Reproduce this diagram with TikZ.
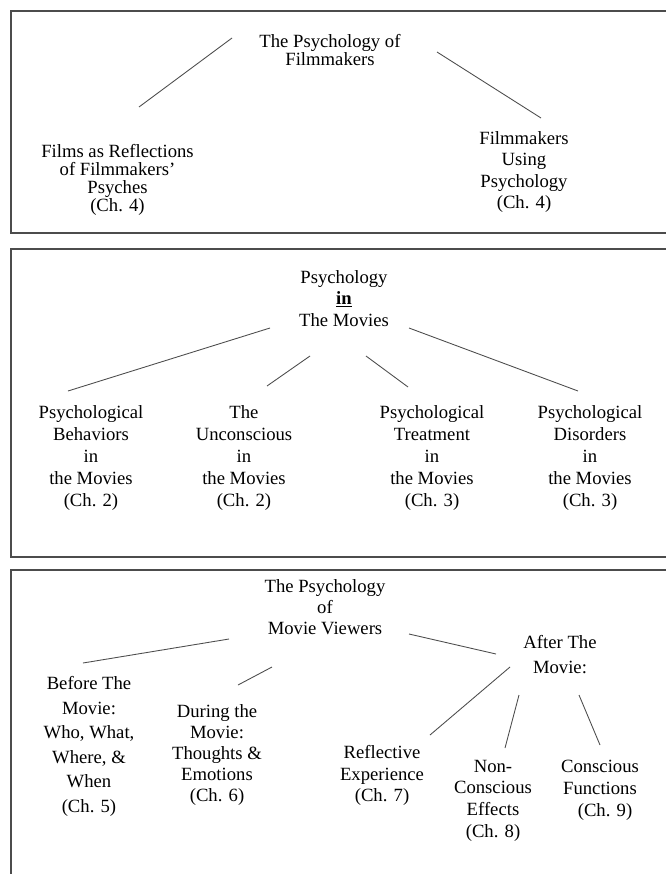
\documentclass[tikz,border=0pt]{standalone}
\usepackage{fontspec}
\setmainfont{Liberation Serif}
\usetikzlibrary{positioning}

\begin{document}
\begin{tikzpicture}[
    x=0.75pt, y=-0.75pt,
    frame/.style={line width=1pt, black!70},
    link/.style={line width=0.65pt, black!70},
    entry/.style={align=center, inner sep=0pt,
        font=\fontsize{14pt}{#1}\selectfont}
]

\useasboundingbox (0,0) rectangle (666,874);
\clip (0,0) rectangle (666,874);
\fill[white] (0,0) rectangle (666,874);

% Filmmakers

\draw[frame] (11,11) rectangle (700,233);

\node[entry=12pt] (film) at (330,50) {The Psychology of\\Filmmakers};
\node[entry=13.5pt] (reflect) at (117.5,180)
    {Films as Reflections\\of Filmmakers'\\Psyches\\(Ch. 4)};
\node[entry=16pt] (using) at (524,172)
    {Filmmakers\\Using\\Psychology\\(Ch. 4)};

\coordinate (film-l) at (232,38);
\coordinate (reflect-t) at (139,107);
\coordinate (film-r) at (437,52);
\coordinate (using-t) at (541,118);

\draw[link] (film-l) -- (reflect-t);
\draw[link] (film-r) -- (using-t);


% Movies

\draw[frame] (11,249) rectangle (700,557);

\node[entry=16pt] (movies) at (344,298.5)
    {Psychology\\\underline{\textbf{in}}\\The Movies};
\node[entry=16.5pt] (behav) at (91,458)
    {Psychological\\Behaviors\\in\\the Movies\\(Ch. 2)};
\node[entry=16.5pt] (uncon) at (244,458)
    {The\\Unconscious\\in\\the Movies\\(Ch. 2)};
\node[entry=16.5pt] (treat) at (432,458)
    {Psychological\\Treatment\\in\\the Movies\\(Ch. 3)};
\node[entry=16.5pt] (disord) at (590,458)
    {Psychological\\Disorders\\in\\the Movies\\(Ch. 3)};

\coordinate (movies-a) at (270,328);
\coordinate (movies-b) at (310,356);
\coordinate (movies-c) at (366,356);
\coordinate (movies-d) at (409,328);
\coordinate (behav-t) at (68,391);
\coordinate (uncon-t) at (267,386);
\coordinate (treat-t) at (408,387);
\coordinate (disord-t) at (578,391);

\draw[link] (movies-a) -- (behav-t);
\draw[link] (movies-b) -- (uncon-t);
\draw[link] (movies-c) -- (treat-t);
\draw[link] (movies-d) -- (disord-t);


% Viewers

\draw[frame] (11,570) rectangle (700,900);

\node[entry=15.75pt] (viewers) at (325,607)
    {The Psychology\\of\\Movie Viewers};
\node[entry=18.4pt] (before) at (89,746.5)
    {Before The\\Movie:\\Who, What,\\Where, \&\\When\\(Ch. 5)};
\node[entry=15.75pt] (during) at (217,755)
    {During the\\Movie:\\Thoughts \&\\Emotions\\(Ch. 6)};
\node[entry=18.75pt] (after) at (560,654.5) {After The\\Movie:};
\node[entry=16pt] (reflexp) at (382,775.5)
    {Reflective\\Experience\\(Ch. 7)};
\node[entry=16.3pt] (noncon) at (493,800.5)
    {Non-\\Conscious\\Effects\\(Ch. 8)};
\node[entry=16.5pt] (confun) at (600,790)
    {Conscious\\Functions\\\hspace*{7.5pt}(Ch. 9)};

\coordinate (viewers-a) at (229,639);
\coordinate (viewers-b) at (272,667);
\coordinate (viewers-c) at (409,634);
\coordinate (before-t) at (83,663);
\coordinate (during-t) at (238,685);
\coordinate (after-l) at (496,654);
\coordinate (after-a) at (510,667);
\coordinate (after-b) at (519,695);
\coordinate (after-c) at (579,695);
\coordinate (reflexp-t) at (430,735);
\coordinate (noncon-t) at (505,748);
\coordinate (confun-t) at (600,745);

\draw[link] (viewers-a) -- (before-t);
\draw[link] (viewers-b) -- (during-t);
\draw[link] (viewers-c) -- (after-l);
\draw[link] (after-a) -- (reflexp-t);
\draw[link] (after-b) -- (noncon-t);
\draw[link] (after-c) -- (confun-t);

\end{tikzpicture}
\end{document}
